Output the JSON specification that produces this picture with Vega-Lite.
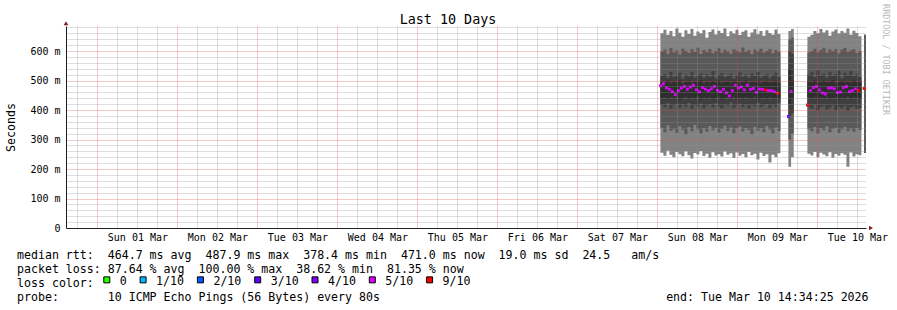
{
  "$schema": "https://vega.github.io/schema/vega-lite/v6.json",
  "width": 800,
  "height": 202,
  "autosize": {"type": "none"},
  "padding": {"left": 66, "top": 26, "right": 31, "bottom": 82},
  "background": "#ffffff",
  "config": {"view": {"stroke": null}},
  "title": {"text": "Last 10 Days", "font": "DejaVu Sans Mono", "fontSize": 13.4, "fontWeight": "normal", "color": "#000000", "anchor": "middle", "frame": "group", "offset": 0, "dx": -18, "dy": 33, "baseline": "alphabetic"},
  "data": {"values": [
    {"t":"2026-03-08T00:54","s":"a","ot":660,"mt":598,"dt":515,"ct":496,"cb":440,"db":418,"mb":340,"ob":255,"md":482,"l":"5/10"},
    {"t":"2026-03-08T01:48","s":"a","ot":672,"mt":605,"dt":522,"ct":492,"cb":444,"db":410,"mb":325,"ob":245,"md":489,"l":"5/10"},
    {"t":"2026-03-08T02:42","s":"a","ot":655,"mt":590,"dt":508,"ct":500,"cb":436,"db":424,"mb":348,"ob":262,"md":475,"l":"5/10"},
    {"t":"2026-03-08T03:36","s":"a","ot":668,"mt":610,"dt":530,"ct":489,"cb":442,"db":405,"mb":330,"ob":248,"md":470,"l":"5/10"},
    {"t":"2026-03-08T04:30","s":"a","ot":650,"mt":595,"dt":512,"ct":497,"cb":438,"db":416,"mb":336,"ob":240,"md":462,"l":"5/10"},
    {"t":"2026-03-08T05:24","s":"a","ot":676,"mt":602,"dt":518,"ct":493,"cb":446,"db":421,"mb":322,"ob":258,"md":452,"l":"5/10"},
    {"t":"2026-03-08T06:18","s":"a","ot":662,"mt":588,"dt":526,"ct":501,"cb":434,"db":408,"mb":345,"ob":250,"md":466,"l":"5/10"},
    {"t":"2026-03-08T07:12","s":"a","ot":648,"mt":608,"dt":505,"ct":488,"cb":441,"db":419,"mb":333,"ob":243,"md":474,"l":"5/10"},
    {"t":"2026-03-08T08:06","s":"a","ot":670,"mt":600,"dt":520,"ct":495,"cb":445,"db":412,"mb":318,"ob":260,"md":480,"l":"5/10"},
    {"t":"2026-03-08T09:00","s":"a","ot":658,"mt":593,"dt":514,"ct":499,"cb":437,"db":425,"mb":342,"ob":247,"md":470,"l":"5/10"},
    {"t":"2026-03-08T09:54","s":"a","ot":675,"mt":606,"dt":528,"ct":490,"cb":443,"db":404,"mb":328,"ob":236,"md":478,"l":"5/10"},
    {"t":"2026-03-08T10:48","s":"a","ot":652,"mt":597,"dt":510,"ct":497,"cb":439,"db":417,"mb":350,"ob":254,"md":484,"l":"5/10"},
    {"t":"2026-03-08T11:42","s":"a","ot":666,"mt":611,"dt":517,"ct":494,"cb":447,"db":411,"mb":335,"ob":249,"md":469,"l":"5/10"},
    {"t":"2026-03-08T12:36","s":"a","ot":660,"mt":590,"dt":524,"ct":502,"cb":435,"db":422,"mb":320,"ob":261,"md":462,"l":"5/10"},
    {"t":"2026-03-08T13:30","s":"a","ot":671,"mt":603,"dt":509,"ct":487,"cb":442,"db":407,"mb":338,"ob":244,"md":476,"l":"5/10"},
    {"t":"2026-03-08T14:24","s":"a","ot":645,"mt":596,"dt":521,"ct":496,"cb":438,"db":415,"mb":326,"ob":252,"md":471,"l":"5/10"},
    {"t":"2026-03-08T15:18","s":"a","ot":664,"mt":607,"dt":513,"ct":491,"cb":444,"db":420,"mb":346,"ob":238,"md":466,"l":"5/10"},
    {"t":"2026-03-08T16:12","s":"a","ot":673,"mt":592,"dt":531,"ct":498,"cb":436,"db":409,"mb":331,"ob":257,"md":472,"l":"5/10"},
    {"t":"2026-03-08T17:06","s":"a","ot":656,"mt":600,"dt":507,"ct":493,"cb":441,"db":423,"mb":340,"ob":246,"md":480,"l":"5/10"},
    {"t":"2026-03-08T18:00","s":"a","ot":669,"mt":609,"dt":519,"ct":500,"cb":446,"db":413,"mb":324,"ob":250,"md":467,"l":"5/10"},
    {"t":"2026-03-08T18:54","s":"a","ot":661,"mt":594,"dt":525,"ct":489,"cb":433,"db":406,"mb":336,"ob":242,"md":462,"l":"5/10"},
    {"t":"2026-03-08T19:48","s":"a","ot":676,"mt":604,"dt":511,"ct":495,"cb":440,"db":418,"mb":347,"ob":259,"md":470,"l":"5/10"},
    {"t":"2026-03-08T20:42","s":"a","ot":650,"mt":598,"dt":516,"ct":497,"cb":443,"db":414,"mb":329,"ob":248,"md":458,"l":"5/10"},
    {"t":"2026-03-08T21:36","s":"a","ot":667,"mt":590,"dt":523,"ct":491,"cb":437,"db":426,"mb":341,"ob":253,"md":448,"l":"5/10"},
    {"t":"2026-03-08T22:30","s":"a","ot":659,"mt":606,"dt":506,"ct":499,"cb":445,"db":408,"mb":321,"ob":237,"md":466,"l":"5/10"},
    {"t":"2026-03-08T23:24","s":"a","ot":672,"mt":601,"dt":518,"ct":494,"cb":439,"db":416,"mb":337,"ob":256,"md":484,"l":"5/10"},
    {"t":"2026-03-09T00:18","s":"a","ot":654,"mt":595,"dt":527,"ct":488,"cb":442,"db":421,"mb":344,"ob":245,"md":474,"l":"5/10"},
    {"t":"2026-03-09T01:12","s":"a","ot":665,"mt":612,"dt":512,"ct":496,"cb":436,"db":410,"mb":327,"ob":251,"md":478,"l":"5/10"},
    {"t":"2026-03-09T02:06","s":"a","ot":670,"mt":597,"dt":520,"ct":501,"cb":444,"db":419,"mb":339,"ob":240,"md":468,"l":"5/10"},
    {"t":"2026-03-09T03:00","s":"a","ot":648,"mt":603,"dt":509,"ct":490,"cb":440,"db":405,"mb":332,"ob":258,"md":484,"l":"5/10"},
    {"t":"2026-03-09T03:54","s":"a","ot":663,"mt":589,"dt":524,"ct":497,"cb":438,"db":417,"mb":318,"ob":247,"md":470,"l":"5/10"},
    {"t":"2026-03-09T04:48","s":"a","ot":674,"mt":605,"dt":515,"ct":493,"cb":446,"db":412,"mb":343,"ob":252,"md":473,"l":"5/10"},
    {"t":"2026-03-09T05:42","s":"a","ot":657,"mt":599,"dt":529,"ct":499,"cb":435,"db":424,"mb":330,"ob":232,"md":460,"l":"5/10"},
    {"t":"2026-03-09T06:36","s":"a","ot":668,"mt":608,"dt":510,"ct":489,"cb":441,"db":409,"mb":338,"ob":255,"md":471,"l":"5/10"},
    {"t":"2026-03-09T07:30","s":"a","ot":652,"mt":594,"dt":517,"ct":495,"cb":443,"db":415,"mb":325,"ob":244,"md":470,"l":"5/10"},
    {"t":"2026-03-09T08:24","s":"a","ot":670,"mt":600,"dt":522,"ct":498,"cb":437,"db":420,"mb":346,"ob":250,"md":468,"l":"9/10"},
    {"t":"2026-03-09T09:18","s":"a","ot":661,"mt":606,"dt":508,"ct":492,"cb":445,"db":407,"mb":334,"ob":222,"md":466,"l":"5/10"},
    {"t":"2026-03-09T10:12","s":"a","ot":655,"mt":592,"dt":519,"ct":496,"cb":439,"db":418,"mb":320,"ob":248,"md":466,"l":"5/10"},
    {"t":"2026-03-09T11:06","s":"a","ot":673,"mt":603,"dt":526,"ct":500,"cb":442,"db":411,"mb":341,"ob":241,"md":462,"l":"5/10"},
    {"t":"2026-03-09T12:00","s":"a","ot":658,"mt":598,"dt":513,"ct":491,"cb":436,"db":422,"mb":329,"ob":253,"md":457,"l":"9/10"},
    {"t":"2026-03-09T12:54","s":"a","ot":658,"mt":598,"dt":513,"ct":491,"cb":436,"db":422,"mb":329,"ob":253,"md":null,"l":"9/10"},
    {"t":"2026-03-09T15:18","s":"b","ot":668,"mt":640,"dt":600,"ct":540,"cb":420,"db":380,"mb":300,"ob":208,"md":378,"l":"3/10"},
    {"t":"2026-03-09T16:06","s":"b","ot":675,"mt":645,"dt":590,"ct":500,"cb":440,"db":390,"mb":320,"ob":240,"md":463,"l":"5/10"},
    {"t":"2026-03-09T16:54","s":"b","ot":675,"mt":645,"dt":590,"ct":500,"cb":440,"db":390,"mb":320,"ob":240,"md":null,"l":"5/10"},
    {"t":"2026-03-09T21:00","s":"c","ot":648,"mt":595,"dt":520,"ct":498,"cb":442,"db":412,"mb":335,"ob":252,"md":417,"l":"9/10"},
    {"t":"2026-03-09T21:54","s":"c","ot":655,"mt":600,"dt":528,"ct":494,"cb":438,"db":404,"mb":328,"ob":246,"md":466,"l":"5/10"},
    {"t":"2026-03-09T22:48","s":"c","ot":668,"mt":608,"dt":512,"ct":501,"cb":445,"db":418,"mb":342,"ob":258,"md":476,"l":"5/10"},
    {"t":"2026-03-09T23:42","s":"c","ot":660,"mt":596,"dt":535,"ct":490,"cb":436,"db":398,"mb":320,"ob":240,"md":480,"l":"5/10"},
    {"t":"2026-03-10T00:36","s":"c","ot":675,"mt":603,"dt":518,"ct":497,"cb":443,"db":410,"mb":338,"ob":255,"md":468,"l":"5/10"},
    {"t":"2026-03-10T01:30","s":"c","ot":663,"mt":611,"dt":524,"ct":500,"cb":440,"db":415,"mb":331,"ob":249,"md":458,"l":"5/10"},
    {"t":"2026-03-10T02:24","s":"c","ot":670,"mt":594,"dt":510,"ct":492,"cb":447,"db":402,"mb":345,"ob":243,"md":454,"l":"5/10"},
    {"t":"2026-03-10T03:18","s":"c","ot":652,"mt":605,"dt":530,"ct":496,"cb":437,"db":408,"mb":325,"ob":257,"md":474,"l":"5/10"},
    {"t":"2026-03-10T04:12","s":"c","ot":666,"mt":599,"dt":516,"ct":502,"cb":441,"db":416,"mb":336,"ob":238,"md":475,"l":"5/10"},
    {"t":"2026-03-10T05:06","s":"c","ot":673,"mt":607,"dt":522,"ct":489,"cb":444,"db":400,"mb":340,"ob":251,"md":472,"l":"5/10"},
    {"t":"2026-03-10T06:00","s":"c","ot":659,"mt":592,"dt":533,"ct":495,"cb":435,"db":411,"mb":322,"ob":245,"md":459,"l":"5/10"},
    {"t":"2026-03-10T06:54","s":"c","ot":668,"mt":604,"dt":508,"ct":499,"cb":442,"db":405,"mb":334,"ob":253,"md":461,"l":"5/10"},
    {"t":"2026-03-10T07:48","s":"c","ot":662,"mt":610,"dt":526,"ct":493,"cb":439,"db":414,"mb":343,"ob":248,"md":476,"l":"5/10"},
    {"t":"2026-03-10T08:42","s":"c","ot":676,"mt":597,"dt":519,"ct":497,"cb":446,"db":397,"mb":329,"ob":208,"md":480,"l":"5/10"},
    {"t":"2026-03-10T09:36","s":"c","ot":655,"mt":602,"dt":531,"ct":491,"cb":437,"db":409,"mb":337,"ob":256,"md":462,"l":"5/10"},
    {"t":"2026-03-10T10:30","s":"c","ot":669,"mt":606,"dt":514,"ct":500,"cb":443,"db":413,"mb":326,"ob":242,"md":466,"l":"5/10"},
    {"t":"2026-03-10T11:24","s":"c","ot":661,"mt":593,"dt":523,"ct":494,"cb":440,"db":403,"mb":339,"ob":250,"md":472,"l":"5/10"},
    {"t":"2026-03-10T12:18","s":"c","ot":650,"mt":600,"dt":512,"ct":496,"cb":438,"db":407,"mb":332,"ob":247,"md":466,"l":"9/10"},
    {"t":"2026-03-10T13:12","s":"c","ot":650,"mt":600,"dt":512,"ct":496,"cb":438,"db":407,"mb":332,"ob":247,"md":null,"l":"9/10"},
    {"t":"2026-03-10T14:00","s":"d","ot":655,"mt":655,"dt":473,"ct":473,"cb":473,"db":473,"mb":254,"ob":254,"md":473,"l":"9/10"},
    {"t":"2026-03-10T14:34:25","s":"d","ot":655,"mt":655,"dt":473,"ct":473,"cb":473,"db":473,"mb":254,"ob":254,"md":null,"l":"9/10"}
  ]},
  "layer": [
    {
      "mark": {"type": "area", "interpolate": "step-after", "color": "#828282", "opacity": 1},
      "encoding": {
        "x": {
          "field": "t", "type": "temporal",
          "scale": {"domain": [{"year": 2026, "month": 2, "date": 28, "hours": 14, "minutes": 34, "seconds": 25}, {"year": 2026, "month": 3, "date": 10, "hours": 14, "minutes": 34, "seconds": 25}], "nice": false},
          "axis": {
            "zindex": 1,
            "tickCount": 200,
            "values": [
              {"year":2026,"month":2,"date":28,"hours":18},
              {"year":2026,"month":3,"date":1,"hours":0},{"year":2026,"month":3,"date":1,"hours":6},{"year":2026,"month":3,"date":1,"hours":12},{"year":2026,"month":3,"date":1,"hours":18},
              {"year":2026,"month":3,"date":2,"hours":0},{"year":2026,"month":3,"date":2,"hours":6},{"year":2026,"month":3,"date":2,"hours":12},{"year":2026,"month":3,"date":2,"hours":18},
              {"year":2026,"month":3,"date":3,"hours":0},{"year":2026,"month":3,"date":3,"hours":6},{"year":2026,"month":3,"date":3,"hours":12},{"year":2026,"month":3,"date":3,"hours":18},
              {"year":2026,"month":3,"date":4,"hours":0},{"year":2026,"month":3,"date":4,"hours":6},{"year":2026,"month":3,"date":4,"hours":12},{"year":2026,"month":3,"date":4,"hours":18},
              {"year":2026,"month":3,"date":5,"hours":0},{"year":2026,"month":3,"date":5,"hours":6},{"year":2026,"month":3,"date":5,"hours":12},{"year":2026,"month":3,"date":5,"hours":18},
              {"year":2026,"month":3,"date":6,"hours":0},{"year":2026,"month":3,"date":6,"hours":6},{"year":2026,"month":3,"date":6,"hours":12},{"year":2026,"month":3,"date":6,"hours":18},
              {"year":2026,"month":3,"date":7,"hours":0},{"year":2026,"month":3,"date":7,"hours":6},{"year":2026,"month":3,"date":7,"hours":12},{"year":2026,"month":3,"date":7,"hours":18},
              {"year":2026,"month":3,"date":8,"hours":0},{"year":2026,"month":3,"date":8,"hours":6},{"year":2026,"month":3,"date":8,"hours":12},{"year":2026,"month":3,"date":8,"hours":18},
              {"year":2026,"month":3,"date":9,"hours":0},{"year":2026,"month":3,"date":9,"hours":6},{"year":2026,"month":3,"date":9,"hours":12},{"year":2026,"month":3,"date":9,"hours":18},
              {"year":2026,"month":3,"date":10,"hours":0},{"year":2026,"month":3,"date":10,"hours":6},{"year":2026,"month":3,"date":10,"hours":12}
            ],
            "grid": true,
            "gridColor": {"condition": {"test": "hours(datum.value) == 0", "value": "rgba(222,79,79,0.6)"}, "value": "rgba(143,143,143,0.6)"},
            "gridDash": [1, 1],
            "gridWidth": 1,
            "ticks": false,
            "domain": true,
            "domainColor": "#1f1f1f",
            "labelExpr": "hours(datum.value) == 12 ? timeFormat(datum.value, '%a %d %b') : ''",
            "labelFont": "DejaVu Sans Mono",
            "labelFontSize": 10,
            "labelColor": "#000000",
            "labelBaseline": "alphabetic",
            "labelPadding": 12.7,
            "labelFlush": false,
            "labelOverlap": false,
            "labelBound": false,
            "title": [
              "median\u00a0rtt:\u00a0\u00a0464.7\u00a0ms\u00a0avg\u00a0\u00a0487.9\u00a0ms\u00a0max\u00a0\u00a0378.4\u00a0ms\u00a0min\u00a0\u00a0471.0\u00a0ms\u00a0now\u00a0\u00a019.0\u00a0ms\u00a0sd\u00a0\u00a024.5\u00a0\u00a0\u00a0am/s",
              "packet\u00a0loss:\u00a087.64\u00a0%\u00a0avg\u00a0\u00a0100.00\u00a0%\u00a0max\u00a0\u00a038.62\u00a0%\u00a0min\u00a0\u00a081.35\u00a0%\u00a0now",
              "loss\u00a0color:",
              "probe:\u00a0\u00a0\u00a0\u00a0\u00a0\u00a0\u00a010\u00a0ICMP\u00a0Echo\u00a0Pings\u00a0(56\u00a0Bytes)\u00a0every\u00a080s\u00a0\u00a0\u00a0\u00a0\u00a0\u00a0\u00a0\u00a0\u00a0\u00a0\u00a0\u00a0\u00a0\u00a0\u00a0\u00a0\u00a0\u00a0\u00a0\u00a0\u00a0\u00a0\u00a0\u00a0\u00a0\u00a0\u00a0\u00a0\u00a0\u00a0\u00a0\u00a0\u00a0\u00a0\u00a0\u00a0\u00a0\u00a0\u00a0\u00a0\u00a0end:\u00a0Tue\u00a0Mar\u00a010\u00a014:34:25\u00a02026"
            ],
            "titleFont": "DejaVu Sans Mono",
            "titleFontSize": 11.6,
            "titleFontWeight": "normal",
            "titleColor": "#000000",
            "titleX": -49.5,
            "titleY": 30.4,
            "titleAlign": "left",
            "titleAnchor": "start",
            "titleBaseline": "alphabetic",
            "titleLineHeight": 14.1,
            "titleLimit": 0
          }
        },
        "y": {
          "field": "ot", "type": "quantitative",
          "scale": {"domain": [0, 684.75], "nice": false, "zero": false},
          "axis": {
            "zindex": 1,
            "tickCount": 200,
            "values": [0,20,40,60,80,100,120,140,160,180,200,220,240,260,280,300,320,340,360,380,400,420,440,460,480,500,520,540,560,580,600,620,640,660,680],
            "grid": true,
            "gridColor": {"condition": {"test": "datum.value % 100 == 0", "value": "rgba(222,79,79,0.6)"}, "value": "rgba(143,143,143,0.6)"},
            "gridDash": [1, 1],
            "gridWidth": 1,
            "ticks": false,
            "domain": true,
            "domainColor": "#1f1f1f",
            "labelExpr": "datum.value % 100 == 0 ? (datum.value == 0 ? '0' : datum.value + ' m') : ''",
            "labelFont": "DejaVu Sans Mono",
            "labelFontSize": 10,
            "labelColor": "#000000",
            "labelPadding": 6,
            "labelOverlap": false,
            "labelBound": false,
            "title": "Seconds",
            "titleFont": "DejaVu Sans Mono",
            "titleFontSize": 11.6,
            "titleFontWeight": "normal",
            "titleColor": "#000000",
            "titleAngle": -90,
            "titleX": -52,
            "titleY": 101,
            "titleAlign": "center",
            "titleBaseline": "alphabetic"
          }
        },
        "y2": {"field": "ob"},
        "detail": {"field": "s", "type": "nominal"}
      }
    },
    {
      "mark": {"type": "area", "interpolate": "step-after", "color": "#595959", "opacity": 1},
      "encoding": {
        "x": {"field": "t", "type": "temporal"},
        "y": {"field": "mt", "type": "quantitative"},
        "y2": {"field": "mb"},
        "detail": {"field": "s", "type": "nominal"}
      }
    },
    {
      "mark": {"type": "area", "interpolate": "step-after", "color": "#3e3e3e", "opacity": 1},
      "encoding": {
        "x": {"field": "t", "type": "temporal"},
        "y": {"field": "dt", "type": "quantitative"},
        "y2": {"field": "db"},
        "detail": {"field": "s", "type": "nominal"}
      }
    },
    {
      "mark": {"type": "area", "interpolate": "step-after", "color": "#2e2e2e", "opacity": 1},
      "encoding": {
        "x": {"field": "t", "type": "temporal"},
        "y": {"field": "ct", "type": "quantitative"},
        "y2": {"field": "cb"},
        "detail": {"field": "s", "type": "nominal"}
      }
    },
    {
      "mark": {"type": "point", "shape": "square", "filled": true, "size": 8, "opacity": 1},
      "encoding": {
        "x": {"field": "t", "type": "temporal"},
        "y": {"field": "md", "type": "quantitative"},
        "color": {
          "field": "l", "type": "nominal",
          "scale": {"domain": ["0", "1/10", "2/10", "3/10", "4/10", "5/10", "9/10"], "range": ["#26ff00", "#00b8ff", "#0059ff", "#5e00ff", "#7e00ff", "#dd00ff", "#ff0000"]},
          "legend": {
            "orient": "none",
            "legendX": 35,
            "legendY": 248,
            "direction": "horizontal",
            "title": null,
            "padding": 0,
            "symbolType": "square",
            "symbolSize": 36,
            "symbolStrokeColor": "#000000",
            "symbolStrokeWidth": 1,
            "symbolOpacity": 1,
            "labelFont": "DejaVu Sans Mono",
            "labelFontSize": 11.6,
            "labelColor": "#000000",
            "labelOffset": 7.2,
            "columnPadding": 10.3,
            "encode": {
              "symbols": {"update": {"stroke": {"value": "#000000"}, "strokeWidth": {"value": 1}, "opacity": {"value": 1}}},
              "labels": {"update": {"dy": {"value": 2.5}}}
            }
          }
        }
      }
    },
    {
      "data": {"values": [{}]},
      "mark": {"type": "point", "shape": "triangle-up", "filled": true, "size": 22, "color": "#801f1f", "opacity": 1},
      "encoding": {
        "x": {"datum": {"year": 2026, "month": 2, "date": 28, "hours": 14, "minutes": 34, "seconds": 25}, "type": "temporal"},
        "y": {"datum": 694, "type": "quantitative"}
      }
    },
    {
      "data": {"values": [{}]},
      "mark": {"type": "point", "shape": "triangle-right", "filled": true, "size": 22, "color": "#801f1f", "opacity": 1},
      "encoding": {
        "x": {"datum": {"year": 2026, "month": 3, "date": 10, "hours": 16, "minutes": 4, "seconds": 25}, "type": "temporal"},
        "y": {"datum": 0, "type": "quantitative"}
      }
    },
    {
      "data": {"values": [{}]},
      "mark": {"type": "text", "text": "RRDTOOL / TOBI OETIKER", "angle": 90, "align": "left", "baseline": "middle", "font": "DejaVu Sans Mono", "fontSize": 8.4, "color": "#b8b8b8"},
      "encoding": {
        "x": {"datum": {"year": 2026, "month": 3, "date": 10, "hours": 20, "minutes": 34, "seconds": 25}, "type": "temporal"},
        "y": {"datum": 759, "type": "quantitative"}
      }
    }
  ]
}
